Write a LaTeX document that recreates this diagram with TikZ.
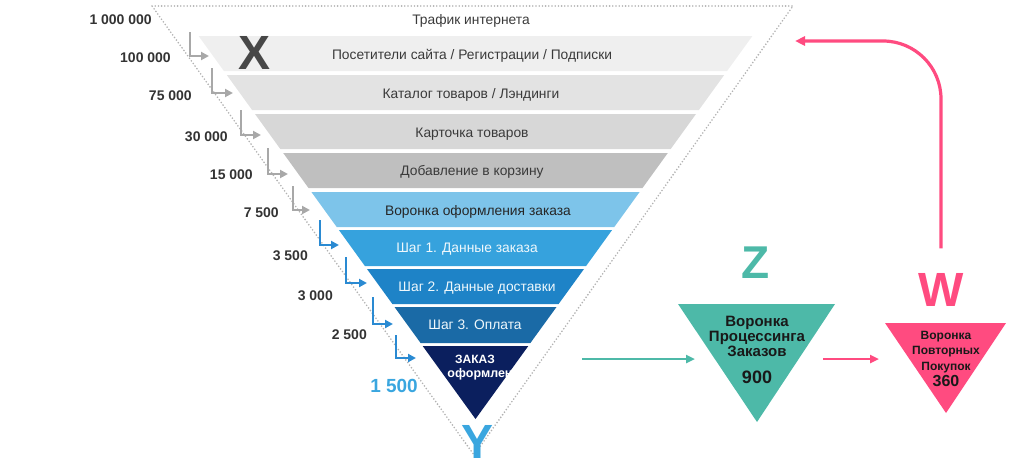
\documentclass[tikz,border=0pt]{standalone}
\usepackage{fontspec}
\setmainfont{Liberation Sans}
\usetikzlibrary{arrows.meta}

\definecolor{bandA}{HTML}{EFEFEF}
\definecolor{bandB}{HTML}{E3E3E3}
\definecolor{bandC}{HTML}{D7D7D7}
\definecolor{bandD}{HTML}{BFBFBF}
\definecolor{bandE}{HTML}{7DC4EA}
\definecolor{bandF}{HTML}{36A2DD}
\definecolor{bandG}{HTML}{1E83C7}
\definecolor{bandH}{HTML}{1A6AA6}
\definecolor{bandI}{HTML}{0B1F5E}
\definecolor{txtdark}{HTML}{3A3A3A}
\definecolor{numgray}{HTML}{333333}
\definecolor{lightblue}{HTML}{3AA6DF}
\definecolor{arrgray}{HTML}{A8A8A8}
\definecolor{arrblue}{HTML}{2A8AD2}
\definecolor{tealz}{HTML}{4DB9A8}
\definecolor{pinkw}{HTML}{FF4B80}

\begin{document}
\begin{tikzpicture}[x=1pt, y=-1pt,
      btxt/.style={
        font=\fontsize{13.8}{15}\selectfont, text=txtdark,
        anchor=base, inner sep=0pt
      },
      wtxt/.style={btxt, text=white!92!bandF},
      numlbl/.style={
        font=\fontsize{14}{16}\selectfont\bfseries, text=numgray,
        anchor=east, inner sep=0pt
      },
      bigletter/.style={
        font=\fontsize{48}{48}\selectfont\bfseries, inner sep=0pt
      },
      funtxt/.style={
        align=center, anchor=north, inner sep=0pt, text=black!90
      },
      garr/.style={
        -{Triangle[length=8pt,width=8pt]}, line width=2.2pt, draw=arrgray
      },
      barr/.style={garr, draw=arrblue}
    ]

    \useasboundingbox (0,0) rectangle (1024,461);

    % --- Dotted outline ---
    \draw[gray!60, line width=1.8pt, line cap=round, dash pattern=on 0pt off 3.2pt]
      (152,6) -- (793,6) -- (474,455) -- cycle;

    % --- Funnel bands ---
    \fill[bandA] (198.6,36)  -- (752.4,36)  -- (727.1,71)  -- (223.9,71)  -- cycle;
    \fill[bandB] (226.8,75)  -- (724.2,75)  -- (698.9,110) -- (252.1,110) -- cycle;
    \fill[bandC] (255.0,114) -- (696.0,114) -- (670.7,149) -- (280.3,149) -- cycle;
    \fill[bandD] (283.2,153) -- (667.8,153) -- (642.5,188) -- (308.5,188) -- cycle;
    \fill[bandE] (311.4,192) -- (639.6,192) -- (614.3,227) -- (336.7,227) -- cycle;
    \fill[bandF] (338.9,230) -- (612.1,230) -- (586.1,266) -- (364.9,266) -- cycle;
    \fill[bandG] (367.0,269) -- (584.0,269) -- (558.6,304) -- (392.4,304) -- cycle;
    \fill[bandH] (394.5,307) -- (556.5,307) -- (530.4,343) -- (420.6,343) -- cycle;
    \fill[bandI] (422.7,346) -- (528.3,346) -- (475.5,419) -- cycle;

    % --- Band labels ---
    \node[btxt] (b1) at (471,24)  {Трафик интернета};
    \node[btxt] (b2) at (472,59)  {Посетители сайта / Регистрации / Подписки};
    \node[btxt] (b3) at (471,98)  {Каталог товаров / Лэндинги};
    \node[btxt] (b4) at (472,137) {Карточка товаров};
    \node[btxt] (b5) at (472,175) {Добавление в корзину};
    \node[btxt, text=black!85] (b6) at (478,215) {Воронка оформления заказа};
    \node[wtxt] (b7) at (467,252) {Шаг 1. Данные заказа};
    \node[wtxt] (b8) at (477,291) {Шаг 2. Данные доставки};
    \node[wtxt] (b9) at (475,329) {Шаг 3. Оплата};
    \node[wtxt, font=\fontsize{12}{13}\selectfont\bfseries, text=white] (b10) at (475,363) {ЗАКАЗ};
    \node[wtxt, font=\fontsize{12.5}{13}\selectfont\bfseries, text=white] (b10b) at (480,377) {оформлен};

    % --- Counts ---
    \node[numlbl] (n1) at (152,20)  {1 000 000};
    \node[numlbl] (n2) at (171,58)  {100 000};
    \node[numlbl] (n3) at (192,96)  {75 000};
    \node[numlbl] (n4) at (228,137) {30 000};
    \node[numlbl] (n5) at (253,175) {15 000};
    \node[numlbl] (n6) at (279,213) {7 500};
    \node[numlbl] (n7) at (308,256) {3 500};
    \node[numlbl] (n8) at (333,296) {3 000};
    \node[numlbl] (n9) at (367,335) {2 500};
    \node[numlbl, font=\fontsize{19}{20}\selectfont\bfseries, text=lightblue] (n10) at (418,386) {1 500};

    % --- Step arrows ---
    \coordinate (s2) at (190,32);   \coordinate (e2) at (209,56);
    \coordinate (s3) at (212,68);   \coordinate (e3) at (233,93);
    \coordinate (s4) at (241,110);  \coordinate (e4) at (261,135);
    \coordinate (s5) at (268,148);  \coordinate (e5) at (288,174);
    \coordinate (s6) at (293,186);  \coordinate (e6) at (310,210);
    \coordinate (s7) at (320,220);  \coordinate (e7) at (339,245);
    \coordinate (s8) at (346,257);  \coordinate (e8) at (367,283);
    \coordinate (s9) at (373,297);  \coordinate (e9) at (393,324);
    \coordinate (s10) at (396,335); \coordinate (e10) at (416,358);

    \draw[garr] (s2) |- (e2);
    \draw[garr] (s3) |- (e3);
    \draw[garr] (s4) |- (e4);
    \draw[garr] (s5) |- (e5);
    \draw[garr] (s6) |- (e6);
    \draw[barr] (s7) |- (e7);
    \draw[barr] (s8) |- (e8);
    \draw[barr] (s9) |- (e9);
    \draw[barr] (s10) |- (e10);

    % --- Big letters ---
    \node[bigletter, text=black!72] (x) at (255,53) {X};
    \node[bigletter, text=lightblue, anchor=north] (y) at (477,425) {Y};
    \node[bigletter, text=tealz, font=\fontsize{46}{46}\selectfont\bfseries] (z) at (756,263) {Z};
    \node[bigletter, text=pinkw] (w) at (941,290) {W};

    % --- Processing and repeat funnels ---
    \fill[tealz] (678,304) -- (835,304) -- (757,422) -- cycle;
    \fill[pinkw] (885,323) -- (1006,323) -- (946,413) -- cycle;

    \node[funtxt, font=\fontsize{15}{14.8}\selectfont\bfseries] (zf) at (757,316)
      {Воронка\\Процессинга\\Заказов\\[13pt]{\fontsize{18}{18}\selectfont 900}};
    \node[funtxt, font=\fontsize{12}{15.5}\selectfont\bfseries] (wf) at (946,331)
      {Воронка\\Повторных\\Покупок\\[1pt]{\fontsize{16}{16}\selectfont 360}};

    % --- Flow arrows ---
    \coordinate (ordout) at (582,359);
    \coordinate (zin) at (695,359);
    \coordinate (zout) at (823,359);
    \coordinate (win) at (879,359);
    \coordinate (ret) at (795,41);

    \draw[-{Triangle[length=9pt,width=8pt]}, line width=2.5pt, draw=tealz] (ordout) -- (zin);
    \draw[-{Triangle[length=9pt,width=8pt]}, line width=2.5pt, draw=pinkw] (zout) -- (win);
    \draw[-{Triangle[length=10pt,width=9pt]}, line width=3.2pt, draw=pinkw, rounded corners=58pt]
      ([yshift=25pt]w.north) |- (ret);

\end{tikzpicture}
\end{document}
